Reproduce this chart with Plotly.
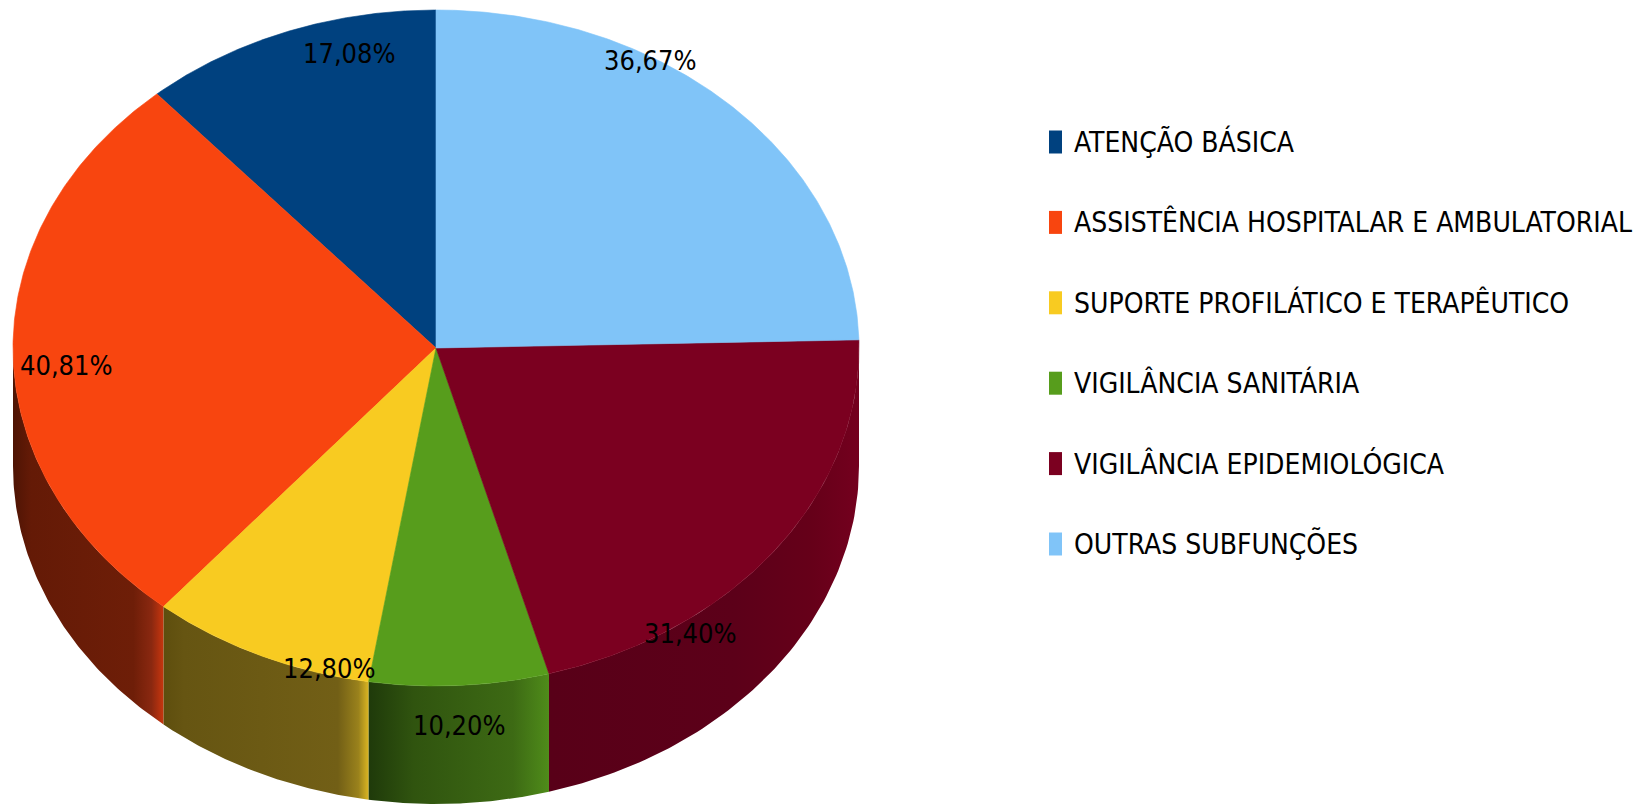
import numpy as np
import plotly.graph_objects as go

# ---------------- data ----------------
categories = [
    "ATENÇÃO BÁSICA",
    "ASSISTÊNCIA HOSPITALAR E AMBULATORIAL",
    "SUPORTE PROFILÁTICO E TERAPÊUTICO",
    "VIGILÂNCIA SANITÁRIA",
    "VIGILÂNCIA EPIDEMIOLÓGICA",
    "OUTRAS SUBFUNÇÕES",
]
values = [17.08, 40.81, 12.80, 10.20, 31.40, 36.67]
value_labels = ["17,08%", "40,81%", "12,80%", "10,20%", "31,40%", "36,67%"]

# ---------------- styles ----------------
top_colors = ["#00417f", "#f8450f", "#f8cb21", "#579d1c", "#7b0020", "#80c4f8"]
wall_scales = [
    [[0, "#00264a"], [1, "#003566"]],
    [[0, "#4e1404"], [0.12, "#641a06"], [0.8, "#6e1e08"], [0.92, "#8a2810"], [1, "#c8360e"]],
    [[0, "#5e4e0e"], [0.1, "#665512"], [0.85, "#725f16"], [0.95, "#9a821c"], [1, "#dcb622"]],
    [[0, "#1f3a0a"], [0.25, "#30540f"], [0.8, "#3d6a14"], [1, "#4f8c1a"]],
    [[0, "#580018"], [0.6, "#5c0019"], [0.85, "#660019"], [1, "#74001e"]],
    [[0, "#4a7aa0"], [1, "#5a8ab0"]],
]
FONT = "Liberation Sans Narrow, DejaVu Sans Condensed, Arial Narrow, sans-serif"

# ---------------- geometry (pixel space) ----------------
W, H = 1646, 812
CX, CY, RX, RY, DEPTH = 436, 348, 423, 338, 118
label_pos = [(349, 53), (66, 365), (329, 668), (459, 725), (690, 633), (650, 60)]
LEG_X, LEG_Y0, LEG_DY = 1049, 142, 80.4
LEG_W, LEG_H = 13, 23

frac = np.array(values) / np.sum(values)
edges = np.concatenate([[0.0], np.cumsum(frac)]) * 360.0  # counter-clockwise from 12 o'clock


def ell(theta_deg, dy=0.0):
    t = np.radians(theta_deg)
    return CX - RX * np.sin(t), CY - RY * np.cos(t) + dy


fig = go.Figure()

# side walls (visible front half: 90..270 deg)
for i in range(len(values)):
    a = max(edges[i], 90.0)
    b = min(edges[i + 1], 270.0)
    if a >= b:
        continue
    th = np.linspace(a, b, 80)
    xt, yt = ell(th)
    xb, yb = ell(th[::-1], DEPTH)
    xs = np.concatenate([xt, xb, xt[:1]])
    ys = np.concatenate([yt, yb, yt[:1]])
    fig.add_trace(go.Scatter(
        x=xs, y=ys, mode="lines", fill="toself",
        line=dict(width=0, color=top_colors[i]),
        fillgradient=dict(type="horizontal", colorscale=wall_scales[i]),
        hoverinfo="skip", showlegend=False,
    ))

# top faces
for i in range(len(values)):
    th = np.linspace(edges[i], edges[i + 1], 200)
    xa, ya = ell(th)
    xs = np.concatenate([[CX], xa, [CX]])
    ys = np.concatenate([[CY], ya, [CY]])
    fig.add_trace(go.Scatter(
        x=xs, y=ys, mode="lines", fill="toself",
        fillcolor=top_colors[i],
        line=dict(width=0.6, color=top_colors[i]),
        name=categories[i],
        hovertemplate="%{fullData.name}: " + value_labels[i] + "<extra></extra>",
        showlegend=False,
    ))

annotations = []
shapes = []
# value labels
for (lx, ly), txt in zip(label_pos, value_labels):
    annotations.append(dict(
        x=lx, y=ly, xref="x", yref="y", text=txt, showarrow=False,
        xanchor="center", yanchor="middle",
        font=dict(family=FONT, size=27, color="#000000"),
    ))

# legend
for i, cat in enumerate(categories):
    yc = LEG_Y0 + i * LEG_DY
    shapes.append(dict(
        type="rect", xref="x", yref="y",
        x0=LEG_X, x1=LEG_X + LEG_W, y0=yc - LEG_H / 2, y1=yc + LEG_H / 2,
        fillcolor=top_colors[i], line=dict(width=0),
    ))
    annotations.append(dict(
        x=LEG_X + LEG_W + 10, y=yc, xref="x", yref="y", text=cat, showarrow=False,
        xanchor="left", yanchor="middle",
        font=dict(family=FONT, size=28, color="#000000"),
    ))

fig.update_layout(
    width=W, height=H, autosize=False,
    margin=dict(l=0, r=0, t=0, b=0),
    paper_bgcolor="white", plot_bgcolor="white",
    xaxis=dict(range=[0, W], visible=False, fixedrange=True),
    yaxis=dict(range=[H, 0], visible=False, fixedrange=True),
    annotations=annotations, shapes=shapes,
    showlegend=False,
)

fig.write_html(
    "out.html",
    config={"displayModeBar": False},
    post_script="document.body.style.margin='0';",
)
